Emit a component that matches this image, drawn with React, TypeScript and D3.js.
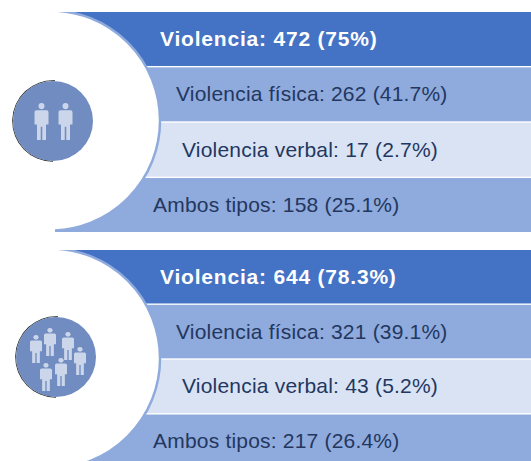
import * as d3 from "d3";

const WIDTH = 531;
const HEIGHT = 461;

// values
const panelNames = ["dos", "grupo"];
const rowNames = ["Violencia", "Violencia física", "Violencia verbal", "Ambos tipos"];
const panelCounts = [
  [472, 262, 17, 158],
  [644, 321, 43, 217],
];
const panelPercents = [
  ["75%", "41.7%", "2.7%", "25.1%"],
  ["78.3%", "39.1%", "5.2%", "26.4%"],
];
const rowFills = ["#4472c4", "#8faadc", "#dae3f3", "#8faadc"];
const rowTextX = [160, 176, 182, 153];
const panelHeights = [220, 218];

// people icons inside the small circles, relative to the top of the panel
const peopleSets = [
  [
    { x: 41.5, y: 91, h: 37, w: 14 },
    { x: 65.5, y: 91, h: 37, w: 14 },
  ],
  [
    { x: 36, y: 85, h: 28, w: 12 },
    { x: 50, y: 78, h: 28, w: 12 },
    { x: 68, y: 82, h: 28, w: 12 },
    { x: 80, y: 97, h: 28, w: 12 },
    { x: 46, y: 113, h: 28, w: 12 },
    { x: 61, y: 108, h: 28, w: 12 },
  ],
];
const badgeCentres = [
  { x: 53, y: 109 },
  { x: 56, y: 107 },
];

const Person = ({ x, y, h, w }: { x: number; y: number; h: number; w: number }) => {
  // unit figure, 36 tall and 14 wide
  const body =
    "M-5 7 L5 7 Q7 7 7 9 L7 21 L4.5 21 L4.5 36 L0.8 36 L0.8 23 L-0.8 23 L-0.8 36 L-4.5 36 L-4.5 21 L-7 21 L-7 9 Q-7 7 -5 7 Z";
  return (
    <g transform={`translate(${x},${y}) scale(${w / 14},${h / 36})`} fill="#ccd6ea">
      <circle cx={0} cy={3} r={3} />
      <path d={body} />
    </g>
  );
};

const App = () => {
  const panelY = d3.scalePoint<string>().domain(panelNames).range([12, 250]);
  const arcGen = d3.arc();
  const bigCircle = arcGen({ innerRadius: 0, outerRadius: 110, startAngle: 0, endAngle: Math.PI * 2 }) as string;
  const badge = arcGen({ innerRadius: 0, outerRadius: 40, startAngle: 0, endAngle: Math.PI * 2 }) as string;
  const badgeEdge = arcGen({ innerRadius: 40, outerRadius: 40.8, startAngle: -Math.PI, endAngle: 0.05 }) as string;

  return (
    <svg
      width={WIDTH}
      height={HEIGHT}
      style={{ position: "absolute", left: 0, top: 0, background: "#fff" }}
      fontFamily="'Liberation Sans', Arial, sans-serif"
    >
      <defs>
        <clipPath id="rightSide">
          <rect x={55} y={0} width={WIDTH} height={HEIGHT} />
        </clipPath>
        <filter id="soft" x="-10%" y="-10%" width="120%" height="120%">
          <feGaussianBlur stdDeviation={0.5} />
        </filter>
      </defs>
      {panelNames.map((panel, p) => {
        const top = panelY(panel) as number;
        const rowY = d3.scaleBand<string>().domain(rowNames).range([0, panelHeights[p]]).paddingInner(0.025);
        return (
          <g key={panel} transform={`translate(0,${top})`}>
            {rowNames.map((row, i) => (
              <rect
                key={row}
                x={55}
                y={rowY(row)}
                width={WIDTH - 55}
                height={rowY.bandwidth()}
                fill={rowFills[i]}
              />
            ))}
            <g clipPath="url(#rightSide)">
              <path
                d={bigCircle}
                transform="translate(50,108.5)"
                fill="#fff"
                stroke="#8faadc"
                strokeWidth={2.5}
              />
            </g>
            {rowNames.map((row, i) => (
              <text
                key={row}
                x={rowTextX[i]}
                y={(rowY(row) as number) + rowY.bandwidth() / 2 + 7}
                fontSize={21}
                fontWeight={i === 0 ? "bold" : "normal"}
                letterSpacing={i === 0 ? 0.8 : 0.2}
                fill={i === 0 ? "#fff" : "#23375f"}
              >
                {`${row}: ${panelCounts[p][i]} (${panelPercents[p][i]})`}
              </text>
            ))}
            <g transform={`translate(${badgeCentres[p].x},${badgeCentres[p].y})`}>
              <path d={badgeEdge} fill="#222" />
              <path d={badge} fill="#6f8cc0" filter="url(#soft)" />
            </g>
            <g filter="url(#soft)">
              {peopleSets[p].map((d, i) => (
                <Person key={i} {...d} />
              ))}
            </g>
          </g>
        );
      })}
    </svg>
  );
};

export default App;
